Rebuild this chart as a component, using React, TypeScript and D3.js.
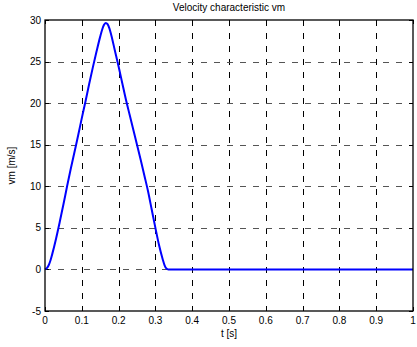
import React from "react";
import * as d3 from "d3";

const tValues = [0, 0.005, 0.01, 0.015, 0.02, 0.03, 0.04, 0.05, 0.06, 0.07, 0.08, 0.09, 0.1, 0.11, 0.12, 0.13, 0.14, 0.15, 0.155, 0.16, 0.165, 0.17, 0.175, 0.18, 0.19, 0.2, 0.21, 0.22, 0.23, 0.24, 0.25, 0.26, 0.27, 0.28, 0.29, 0.3, 0.31, 0.32, 0.325, 0.33, 0.335, 1.0];
const vmValues = [0, 0.15, 0.5, 1.1, 1.9, 3.7, 5.7, 7.8, 10.0, 12.1, 14.1, 16.1, 18.2, 20.2, 22.3, 24.3, 26.2, 28.0, 28.8, 29.4, 29.65, 29.5, 29.0, 28.2, 26.3, 24.4, 22.4, 20.4, 18.6, 16.8, 15.0, 13.2, 11.3, 9.4, 7.2, 5.0, 2.9, 1.2, 0.5, 0.1, 0, 0];
const xTicks = [0, 0.1, 0.2, 0.3, 0.4, 0.5, 0.6, 0.7, 0.8, 0.9, 1];
const yTicks = [-5, 0, 5, 10, 15, 20, 25, 30];
const title = "Velocity characteristic vm";
const xLabel = "t [s]";
const yLabel = "vm [m/s]";

const W = 417, H = 347;
const L = 45, R = 413, T = 20, B = 311;

export default function App() {
  const x = d3.scaleLinear().domain([0, 1]).range([L, R]);
  const y = d3.scaleLinear().domain([-5, 30]).range([B, T]);
  const pts = tValues.map((t, i) => [t, vmValues[i]] as [number, number]);
  const line = d3.line<[number, number]>().x(d => x(d[0])).y(d => y(d[1])).curve(d3.curveMonotoneX);
  const font = "'Liberation Sans', Arial, Helvetica, sans-serif";
  const tl = 4;
  return (
    <svg width={W} height={H} style={{ position: "absolute", left: 0, top: 0, background: "#fff" }} fontFamily={font}>
      <rect x={0} y={0} width={W} height={H} fill="#fff" />
      {xTicks.slice(1, -1).map(t => (
        <line key={"gx" + t} x1={Math.round(x(t)) + 0.5} x2={Math.round(x(t)) + 0.5} y1={T} y2={B} stroke="#000" strokeWidth={1} strokeDasharray="6,7" />
      ))}
      {yTicks.slice(1, -1).map(v => (
        <line key={"gy" + v} x1={L} x2={R} y1={Math.round(y(v)) + 0.5} y2={Math.round(y(v)) + 0.5} stroke="#555" strokeWidth={1} strokeDasharray="6,7" />
      ))}
      {xTicks.map(t => (
        <g key={"tx" + t}>
          <line x1={Math.round(x(t)) + 0.5} x2={Math.round(x(t)) + 0.5} y1={B} y2={B - tl} stroke="#000" />
          <line x1={Math.round(x(t)) + 0.5} x2={Math.round(x(t)) + 0.5} y1={T} y2={T + tl} stroke="#000" />
          <text x={x(t)} y={324} fontSize={10} textAnchor="middle" fill="#000">{String(t)}</text>
        </g>
      ))}
      {yTicks.map(v => (
        <g key={"ty" + v}>
          <line x1={L} x2={L + tl} y1={Math.round(y(v)) + 0.5} y2={Math.round(y(v)) + 0.5} stroke="#000" />
          <line x1={R} x2={R - tl} y1={Math.round(y(v)) + 0.5} y2={Math.round(y(v)) + 0.5} stroke="#000" />
          <text x={41} y={y(v) + 3.5} fontSize={10} textAnchor="end" fill="#000">{String(v)}</text>
        </g>
      ))}
      <path d={line(pts) || ""} fill="none" stroke="#0000ff" strokeWidth={2} strokeLinejoin="round" />
      <rect x={L} y={T} width={R - L} height={B - T} fill="none" stroke="#000" strokeWidth={1.3} />
      <text x={(L + R) / 2} y={11} fontSize={10} textAnchor="middle" fill="#000">{title}</text>
      <text x={(L + R) / 2} y={337} fontSize={10} textAnchor="middle" fill="#000">{xLabel}</text>
      <text transform={`translate(15,${(T + B) / 2}) rotate(-90)`} fontSize={10} textAnchor="middle" fill="#000">{yLabel}</text>
    </svg>
  );
}
